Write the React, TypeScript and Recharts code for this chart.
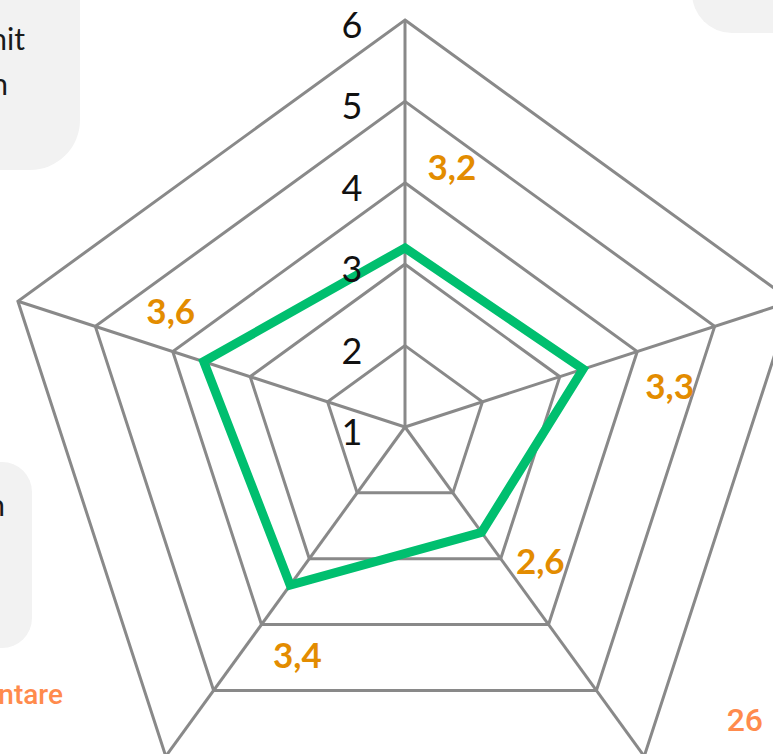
import React from 'react';
import { RadarChart, Radar, PolarGrid, PolarAngleAxis, PolarRadiusAxis } from 'recharts';

const categories = ['Criteriul 1', 'Criteriul 2', 'Criteriul 3', 'Criteriul 4', 'Criteriul 5'];
const scores = [3.2, 3.3, 2.6, 3.4, 3.6];
const radiusTicks = [1, 2, 3, 4, 5, 6];

const data = categories.map((name, i) => ({ name, value: scores[i] }));

const CX = 405;
const CY = 427;
const OUTER = 407;

const GREEN = '#00BF6F';
const GRID = '#898989';
const LABEL_ORANGE = '#E38C00';
const SLIDE_ORANGE = '#FF8B4D';
const FONT = 'Lato, "Open Sans", sans-serif';

// manual placement of the value labels: [distance from centre, angular shift in degrees]
const LABEL_PLACE: [number, number][] = [
  [265, 10.2],
  [268, 9.0],
  [190, -9.4],
  [251, -10.6],
  [262, 8.6],
];

const renderTick = (props: any) => {
  const { x, y, payload } = props;
  return (
    <text
      x={x - 53}
      y={y + 4}
      textAnchor="middle"
      dominantBaseline="central"
      fontFamily={FONT}
      fontSize={36}
      fill="#111"
    >
      {payload.value}
    </text>
  );
};

const renderValueLabel = (props: any) => {
  const vb = props.viewBox || {};
  const px = vb.x ?? props.x;
  const py = vb.y ?? props.y;
  const value = props.value;
  let i = props.index;
  if (i === undefined) i = scores.indexOf(value);
  const place = LABEL_PLACE[i] || [260, 0];
  const base = Math.atan2(CY - py, px - CX);
  const a = base - (place[1] * Math.PI) / 180;
  const x = CX + place[0] * Math.cos(a);
  const y = CY - place[0] * Math.sin(a);
  return (
    <text
      key={`lbl-${i}`}
      x={x}
      y={y}
      textAnchor="middle"
      dominantBaseline="central"
      fontFamily={FONT}
      fontWeight="bold"
      fontSize={35}
      fill={LABEL_ORANGE}
    >
      {Number(value).toFixed(1).replace('.', ',')}
    </text>
  );
};

const boxStyle: React.CSSProperties = { position: 'absolute', background: '#F2F2F2' };
const bodyText: React.CSSProperties = {
  position: 'absolute',
  fontFamily: FONT,
  fontSize: 30,
  color: '#1a1a1a',
  whiteSpace: 'nowrap',
  lineHeight: 1,
};
const slideText: React.CSSProperties = {
  position: 'absolute',
  fontFamily: 'Roboto, "Liberation Sans", Arial, sans-serif',
  fontWeight: 500,
  color: SLIDE_ORANGE,
  lineHeight: 1,
  whiteSpace: 'nowrap',
};

export default function App() {
  return (
    <div
      style={{
        position: 'fixed',
        left: 0,
        top: 0,
        width: 773,
        height: 754,
        overflow: 'hidden',
        background: '#fff',
      }}
    >
      <div style={{ ...boxStyle, left: -100, top: -100, width: 180, height: 270, borderRadius: 50 }} />
      <div style={{ ...boxStyle, left: 692, top: -100, width: 200, height: 133, borderRadius: 40 }} />
      <div style={{ ...boxStyle, left: -100, top: 462, width: 132, height: 186, borderRadius: 30 }} />

      <div style={{ ...bodyText, right: 748, top: 23 }}>nit</div>
      <div style={{ ...bodyText, right: 765, top: 68 }}>n</div>
      <div style={{ ...bodyText, right: 768, top: 489 }}>n</div>

      <div style={{ ...slideText, right: 710, top: 681, fontSize: 28 }}>ntare</div>
      <div style={{ ...slideText, right: 10, top: 704, fontSize: 32 }}>26</div>

      <div style={{ position: 'absolute', left: 0, top: 0 }}>
        <RadarChart width={773} height={754} data={data} cx={CX} cy={CY} outerRadius={OUTER} margin={{ top: 0, right: 0, bottom: 0, left: 0 }}>
          <PolarGrid gridType="polygon" stroke={GRID} strokeWidth={3} strokeOpacity={1} />
          <PolarAngleAxis dataKey="name" tick={false} tickLine={false} axisLine={false} />
          <PolarRadiusAxis
            angle={90}
            domain={[1, 6]}
            ticks={radiusTicks as any}
            tickCount={6}
            axisLine={false}
            tickLine={false}
            tick={renderTick}
          />
          <Radar
            dataKey="value"
            stroke={GREEN}
            strokeWidth={9}
            fill="none"
            fillOpacity={0}
            dot={false}
            isAnimationActive={false}
            label={renderValueLabel}
          />
        </RadarChart>
      </div>
    </div>
  );
}
